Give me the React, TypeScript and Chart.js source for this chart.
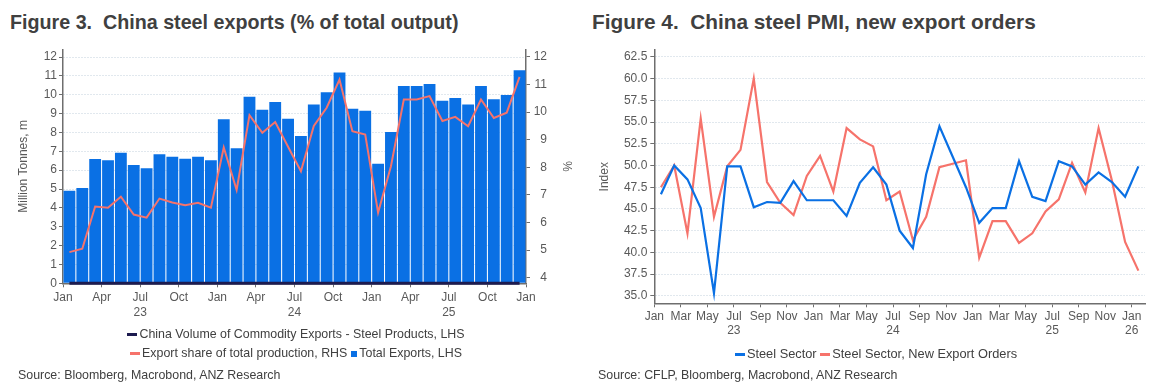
import React, { useEffect, useRef } from 'react';
import { Chart, registerables } from 'chart.js';

Chart.register(...registerables);

const FONT = '"Liberation Sans", Arial, Helvetica, sans-serif';
const TEXT = '#595959';
const DARK = '#404040';
const AXIS = '#6e6e6e';
const GRID = '#c3d1dc';
const BLUE = '#0a70e4';
const RED = '#f6736b';
const NAVY = '#1d1b4f';

// ---------- Figure 3: monthly, Jan 2023 .. Dec 2025 ----------
const exportMonths = [
  '2023-01', '2023-02', '2023-03', '2023-04', '2023-05', '2023-06', '2023-07', '2023-08', '2023-09', '2023-10', '2023-11', '2023-12',
  '2024-01', '2024-02', '2024-03', '2024-04', '2024-05', '2024-06', '2024-07', '2024-08', '2024-09', '2024-10', '2024-11', '2024-12',
  '2025-01', '2025-02', '2025-03', '2025-04', '2025-05', '2025-06', '2025-07', '2025-08', '2025-09', '2025-10', '2025-11', '2025-12',
];
// Total Exports, LHS (million tonnes)
const totalExports = [
  4.91, 5.05, 6.59, 6.52, 6.93, 6.27, 6.1, 6.85, 6.71, 6.6, 6.71, 6.53,
  8.7, 7.16, 9.9, 9.21, 9.62, 8.73, 7.81, 9.48, 10.13, 11.18, 9.26, 9.15,
  6.34, 8.03, 10.46, 10.46, 10.57, 9.68, 9.83, 9.48, 10.46, 9.76, 9.99, 11.3,
];
// Export share of total production, RHS (%)
const exportShare = [
  4.93, 5.05, 6.58, 6.54, 6.94, 6.29, 6.18, 6.87, 6.73, 6.63, 6.72, 6.54,
  8.72, 7.18, 9.89, 9.25, 9.64, 8.75, 7.86, 9.5, 10.16, 11.18, 9.31, 9.19,
  6.36, 8.04, 10.46, 10.46, 10.58, 9.68, 9.83, 9.49, 10.46, 9.79, 9.98, 11.28,
];
// China Volume of Commodity Exports - Steel Products, LHS
const steelProducts = [
  0, 0, 0, 0, 0, 0, 0, 0, 0, 0, 0, 0,
  0, 0, 0, 0, 0, 0, 0, 0, 0, 0, 0, 0,
  0, 0, 0, 0, 0, 0, 0, 0, 0, 0, 0, 0,
];
const fig3TickMonths = [0, 3, 6, 9, 12, 15, 18, 21, 24, 27, 30, 33, 36];
const fig3TickLabels: (string | string[])[] = [
  'Jan', 'Apr', ['Jul', '23'], 'Oct', 'Jan', 'Apr', ['Jul', '24'], 'Oct', 'Jan', 'Apr', ['Jul', '25'], 'Oct', 'Jan',
];
const fig3LeftTicks = [0, 1, 2, 3, 4, 5, 6, 7, 8, 9, 10, 11, 12];
const fig3RightTicks = [4, 5, 6, 7, 8, 9, 10, 11, 12];

// ---------- Figure 4: monthly, Jan 2023 .. Jan 2026 ----------
const pmiMonths = [
  '2023-01', '2023-02', '2023-03', '2023-04', '2023-05', '2023-06', '2023-07', '2023-08', '2023-09', '2023-10', '2023-11', '2023-12',
  '2024-01', '2024-02', '2024-03', '2024-04', '2024-05', '2024-06', '2024-07', '2024-08', '2024-09', '2024-10', '2024-11', '2024-12',
  '2025-01', '2025-02', '2025-03', '2025-04', '2025-05', '2025-06', '2025-07', '2025-08', '2025-09', '2025-10', '2025-11', '2025-12',
  '2026-01',
];
const steelSector = [
  46.7, 50.0, 48.4, 45.1, 35.3, 49.9, 49.9, 45.2, 45.8, 45.7, 48.2, 46.0,
  46.0, 46.0, 44.2, 48.0, 49.8, 47.8, 42.5, 40.5, 49.0, 54.5, 51.0, 47.5,
  43.4, 45.1, 45.1, 50.5, 46.4, 45.9, 50.5, 49.9, 47.8, 49.2, 48.1, 46.4,
  49.9,
];
const newExportOrders = [
  47.5, 50.0, 42.2, 55.4, 44.1, 49.9, 51.8, 60.0, 48.1, 45.7, 44.3, 48.8,
  51.1, 47.0, 54.3, 53.0, 52.2, 46.0, 47.0, 41.4, 44.1, 49.8, 50.2, 50.6,
  39.4, 43.6, 43.6, 41.1, 42.2, 44.7, 46.1, 50.3, 46.9, 54.3, 48.3, 41.2,
  37.9,
];
const fig4TickMonths = [0, 2, 4, 6, 8, 10, 12, 14, 16, 18, 20, 22, 24, 26, 28, 30, 32, 34, 36];
const fig4TickLabels: (string | string[])[] = [
  'Jan', 'Mar', 'May', ['Jul', '23'], 'Sep', 'Nov',
  'Jan', 'Mar', 'May', ['Jul', '24'], 'Sep', 'Nov',
  'Jan', 'Mar', 'May', ['Jul', '25'], 'Sep', 'Nov',
  ['Jan', '26'],
];
const fig4YTicks = [35, 37.5, 40, 42.5, 45, 47.5, 50, 52.5, 55, 57.5, 60, 62.5];

const leftFont = { family: FONT, size: 12, lineHeight: 1.25 };
const rightFont = { family: FONT, size: 12, lineHeight: 1.2 };

function Fig3() {
  const ref = useRef<HTMLCanvasElement>(null);
  useEffect(() => {
    const pts = (arr: number[]) => arr.map((v, i) => ({ x: i + 0.5, y: v }));
    const chart = new Chart(ref.current!, {
      type: 'bar',
      data: {
        datasets: [
          {
            type: 'line', label: 'China Volume of Commodity Exports - Steel Products, LHS',
            data: pts(steelProducts), borderColor: NAVY, backgroundColor: NAVY, borderWidth: 3,
            pointRadius: 0, yAxisID: 'y', order: 1, clip: 6,
          } as any,
          {
            type: 'line', label: 'Export share of total production, RHS',
            data: pts(exportShare), borderColor: RED, backgroundColor: RED, borderWidth: 2,
            pointRadius: 0, yAxisID: 'y2', order: 0, tension: 0,
          } as any,
          {
            type: 'bar', label: 'Total Exports, LHS', data: pts(totalExports) as any,
            backgroundColor: BLUE, borderWidth: 0, barPercentage: 0.92, categoryPercentage: 1,
            yAxisID: 'y', order: 2,
          } as any,
        ],
      },
      options: {
        animation: false,
        responsive: false,
        maintainAspectRatio: false,
        layout: { padding: { top: 6.7, left: 0, right: 33, bottom: 0 } },
        plugins: { legend: { display: false }, tooltip: { enabled: false } },
        scales: {
          x: {
            type: 'linear', min: 0, max: 36, offset: false,
            afterBuildTicks: (s: any) => { s.ticks = fig3TickMonths.map((v) => ({ value: v })); },
            afterFit: (s: any) => { s.height = 41.7; },
            ticks: {
              autoSkip: false, maxRotation: 0, minRotation: 0, padding: 3,
              color: TEXT, font: leftFont,
              callback: (_v: any, i: number) => fig3TickLabels[i],
            },
            grid: { offset: false, drawOnChartArea: false, tickLength: 4, tickColor: AXIS },
            border: { color: AXIS, width: 1.5 },
          },
          y: {
            type: 'linear', position: 'left', min: 0, max: 12.4,
            afterBuildTicks: (s: any) => { s.ticks = fig3LeftTicks.map((v) => ({ value: v })); },
            afterFit: (s: any) => { s.width = 63; },
            ticks: { padding: 2, color: TEXT, font: leftFont, callback: (v: any) => String(v) },
            grid: {
              color: (c: any) => (c.tick && c.tick.value === 0 ? 'rgba(0,0,0,0)' : GRID),
              lineWidth: 1, tickLength: 4, tickColor: AXIS,
            },
            border: { color: AXIS, width: 1.5, dash: [1, 2] },
            title: {
              display: true, text: 'Million Tonnes, m', color: TEXT,
              font: { family: FONT, size: 12 }, padding: { top: 16, bottom: 0 },
            },
          },
          y2: {
            type: 'linear', position: 'right', min: 3.8, max: 12.27,
            afterBuildTicks: (s: any) => { s.ticks = fig3RightTicks.map((v) => ({ value: v })); },
            afterFit: (s: any) => { s.width = 21; },
            ticks: { padding: 2, color: TEXT, font: leftFont, crossAlign: 'far', callback: (v: any) => String(v) },
            grid: { drawOnChartArea: false, tickLength: 4, tickColor: AXIS },
            border: { color: AXIS, width: 1.5 },
            title: {
              display: true, text: '%', color: TEXT,
              font: { family: FONT, size: 12 }, padding: { top: -26.9, bottom: 0 },
            },
          },
        },
      } as any,
    });
    return () => chart.destroy();
  }, []);
  return <canvas ref={ref} width={580} height={285} style={{ position: 'absolute', left: 0, top: 40, width: 580, height: 285 }} />;
}

function Fig4() {
  const ref = useRef<HTMLCanvasElement>(null);
  useEffect(() => {
    const pts = (arr: number[]) => arr.map((v, i) => ({ x: i + 0.5, y: v }));
    const chart = new Chart(ref.current!, {
      type: 'line',
      data: {
        datasets: [
          {
            label: 'Steel Sector', data: pts(steelSector), borderColor: BLUE, backgroundColor: BLUE,
            borderWidth: 2.2, pointRadius: 0, tension: 0, order: 0,
          },
          {
            label: 'Steel Sector, New Export Orders', data: pts(newExportOrders), borderColor: RED,
            backgroundColor: RED, borderWidth: 2.2, pointRadius: 0, tension: 0, order: 1,
          },
        ],
      },
      options: {
        animation: false,
        responsive: false,
        maintainAspectRatio: false,
        layout: { padding: { top: 9.3, left: 0, right: 17, bottom: 0 } },
        plugins: { legend: { display: false }, tooltip: { enabled: false } },
        scales: {
          x: {
            type: 'linear', min: 0, max: 37,
            afterBuildTicks: (s: any) => { s.ticks = fig4TickMonths.map((v) => ({ value: v })); },
            afterFit: (s: any) => { s.height = 36.7; },
            ticks: {
              autoSkip: false, maxRotation: 0, minRotation: 0, padding: 2,
              color: TEXT, font: rightFont,
              callback: (_v: any, i: number) => fig4TickLabels[i],
            },
            grid: { drawOnChartArea: false, tickLength: 4, tickColor: AXIS },
            border: { color: AXIS, width: 1.5 },
          },
          y: {
            type: 'linear', position: 'left', min: 34.14, max: 63.27,
            afterBuildTicks: (s: any) => { s.ticks = fig4YTicks.map((v) => ({ value: v })); },
            afterFit: (s: any) => { s.width = 74.3; },
            ticks: { padding: 3, color: TEXT, font: rightFont, callback: (v: any) => Number(v).toFixed(1) },
            grid: { color: GRID, lineWidth: 1, tickLength: 4, tickColor: AXIS },
            border: { color: AXIS, width: 1.5, dash: [1, 2] },
            title: {
              display: true, text: 'Index', color: TEXT,
              font: { family: FONT, size: 12 }, padding: { top: 17.8, bottom: 0 },
            },
          },
        },
      } as any,
    });
    return () => chart.destroy();
  }, []);
  return <canvas ref={ref} width={582} height={300} style={{ position: 'absolute', left: 580, top: 40, width: 582, height: 300 }} />;
}

const lineMark = (color: string) => (
  <span style={{ display: 'inline-block', width: 10, height: 3, background: color, marginRight: 2, verticalAlign: 'middle' }} />
);
const boxMark = (color: string) => (
  <span style={{ display: 'inline-block', width: 6, height: 6, background: color, marginRight: 2, marginLeft: 4, verticalAlign: 'middle' }} />
);

export default function App() {
  const titleStyle: React.CSSProperties = {
    position: 'absolute', top: 9, fontFamily: FONT, fontWeight: 'bold',
    color: DARK, whiteSpace: 'pre', lineHeight: '26px', margin: 0,
  };
  const textStyle: React.CSSProperties = {
    fontFamily: FONT, fontSize: 12.4, color: DARK, whiteSpace: 'pre', lineHeight: '19px',
  };
  return (
    <div style={{ position: 'absolute', left: 0, top: 0, width: 1162, height: 389, background: '#fff', overflow: 'hidden' }}>
      <div style={{ ...titleStyle, left: 10, fontSize: 19.7 }}>{'Figure 3.  China steel exports (% of total output)'}</div>
      <div style={{ ...titleStyle, left: 592, fontSize: 20.8 }}>{'Figure 4.  China steel PMI, new export orders'}</div>
      <Fig3 />
      <Fig4 />
      <div style={{ position: 'absolute', left: 0, top: 325, width: 592, textAlign: 'center', ...textStyle }}>
        <div>{lineMark(NAVY)}China Volume of Commodity Exports - Steel Products, LHS</div>
        <div>{lineMark(RED)}Export share of total production, RHS{boxMark(BLUE)}Total Exports, LHS</div>
      </div>
      <div style={{ position: 'absolute', left: 580, top: 344, width: 592, textAlign: 'center', ...textStyle, fontSize: 12.8 }}>
        <div>{lineMark(BLUE)}Steel Sector {lineMark(RED)}Steel Sector, New Export Orders</div>
      </div>
      <div style={{ position: 'absolute', left: 18, top: 366, ...textStyle }}>Source: Bloomberg, Macrobond, ANZ Research</div>
      <div style={{ position: 'absolute', left: 598, top: 366, ...textStyle }}>Source: CFLP, Bloomberg, Macrobond, ANZ Research</div>
    </div>
  );
}
